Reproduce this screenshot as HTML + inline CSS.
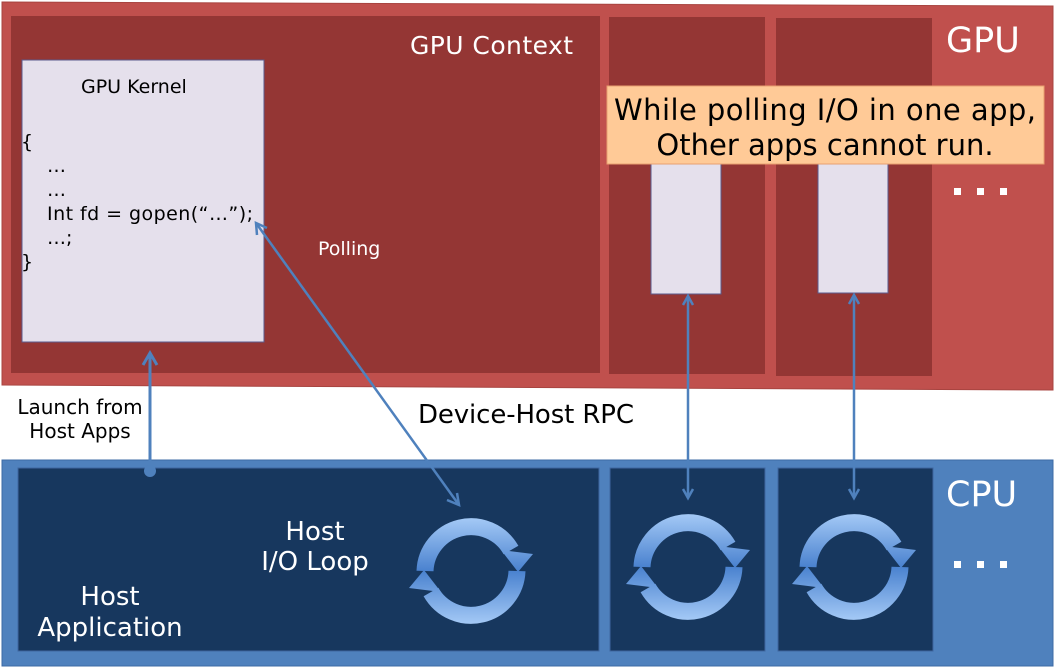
<!DOCTYPE html>
<html><head><meta charset="utf-8"><style>
html,body{margin:0;padding:0;background:#fff;}
svg{display:block;font-family:"DejaVu Sans","Liberation Sans",sans-serif;}
</style></head><body>
<svg width="1055" height="668" viewBox="0 0 1055 668" xmlns="http://www.w3.org/2000/svg">
<defs>
<linearGradient id="g" x1="0" y1="-56" x2="0" y2="0" gradientUnits="userSpaceOnUse">
<stop offset="0" stop-color="#a9cdf8"/><stop offset="1" stop-color="#4a82cf"/></linearGradient>
<g id="ic">
<path d="M -46 0 A 46 46 0 0 1 40 -21" fill="none" stroke="url(#g)" stroke-width="17"/>
<polygon points="30,-21 62,-17 47,1" fill="url(#g)"/>
</g>
<g id="icon"><use href="#ic"/><use href="#ic" transform="rotate(180)"/></g>
</defs>
<!-- GPU -->
<polygon points="2,2 1053,6 1053,390 2,385" fill="#c0504d" stroke="#a84440"/>
<rect x="11" y="16" width="589" height="357" fill="#943634"/>
<rect x="609" y="17" width="156" height="357" fill="#943634"/>
<rect x="776" y="18" width="156" height="358" fill="#943634"/>
<rect x="22" y="60" width="242" height="282" fill="#e5e0ec" stroke="#5a5a8c"/>
<rect x="651" y="160" width="70" height="134" fill="#e5e0ec" stroke="#5a5a8c"/>
<rect x="818" y="160" width="70" height="133" fill="#e5e0ec" stroke="#5a5a8c"/>
<rect x="607" y="86" width="437" height="78" fill="#ffca97" stroke="#e8a070"/>
<text x="825" y="120" font-size="29" text-anchor="middle" fill="#000" textLength="422">While polling I/O in one app,</text>
<text x="825" y="155" font-size="29" text-anchor="middle" fill="#000">Other apps cannot run.</text>
<text x="946" y="52" font-size="35" fill="#fff">GPU</text>
<g fill="#fff"><rect x="954" y="188" width="7" height="7"/><rect x="977" y="188" width="7" height="7"/><rect x="1000" y="188" width="7" height="7"/></g>
<text x="410" y="54" font-size="25" fill="#fff" textLength="163">GPU Context</text>
<text x="318" y="255" font-size="19" fill="#fff">Polling</text>
<text x="81" y="93" font-size="19" fill="#000">GPU Kernel</text>
<g font-size="19" fill="#000">
<text x="21" y="148">{</text><text x="47" y="172">…</text><text x="47" y="196">…</text>
<text x="47" y="220" textLength="206">Int fd = gopen(“…”);</text><text x="47" y="244">…;</text><text x="21" y="268">}</text></g>
<!-- labels between -->
<text x="80" y="414" font-size="20" text-anchor="middle" fill="#000">Launch from</text>
<text x="80" y="438" font-size="20" text-anchor="middle" fill="#000">Host Apps</text>
<text x="418" y="423" font-size="26" fill="#000" textLength="216">Device-Host RPC</text>
<!-- CPU -->
<rect x="2" y="460" width="1051" height="206" fill="#4f81bd" stroke="#3d6ba5"/>
<rect x="18" y="468" width="581" height="183" fill="#17375e" stroke="#3f66a0"/>
<rect x="610" y="468" width="155" height="183" fill="#17375e" stroke="#3f66a0"/>
<rect x="778" y="468" width="155" height="183" fill="#17375e" stroke="#3f66a0"/>
<text x="946" y="506" font-size="35" fill="#fff">CPU</text>
<g fill="#fff"><rect x="954" y="561" width="7" height="7"/><rect x="977" y="561" width="7" height="7"/><rect x="1000" y="561" width="7" height="7"/></g>
<g font-size="26" fill="#fff" text-anchor="middle">
<text x="315" y="540">Host</text><text x="315" y="570">I/O Loop</text>
<text x="110" y="605">Host</text><text x="110" y="636">Application</text></g>
<use href="#icon" transform="translate(471,571)"/>
<use href="#icon" transform="translate(688,567)"/>
<use href="#icon" transform="translate(854,567)"/>
<!-- arrows -->
<g stroke="#4f81bd" fill="none" stroke-width="3">
<line x1="150" y1="471" x2="150" y2="353"/>
<polyline points="143,365 150,353 157,365" stroke-width="3"/>
</g>
<circle cx="150" cy="471" r="6" fill="#4f81bd"/>
<g stroke="#4f81bd" fill="none" stroke-width="2.5">
<line x1="459" y1="505" x2="256" y2="223"/>
<polyline points="257,235 256,223 267,228"/>
<polyline points="447,500 459,505 457,493"/>
<line x1="688" y1="297" x2="688" y2="497"/>
<polyline points="683,305 688,296 693,305"/>
<polyline points="683,489 688,498 693,489"/>
<line x1="854" y1="296" x2="854" y2="497"/>
<polyline points="849,304 854,295 859,304"/>
<polyline points="849,489 854,498 859,489"/>
</g>
</svg>
</body></html>
